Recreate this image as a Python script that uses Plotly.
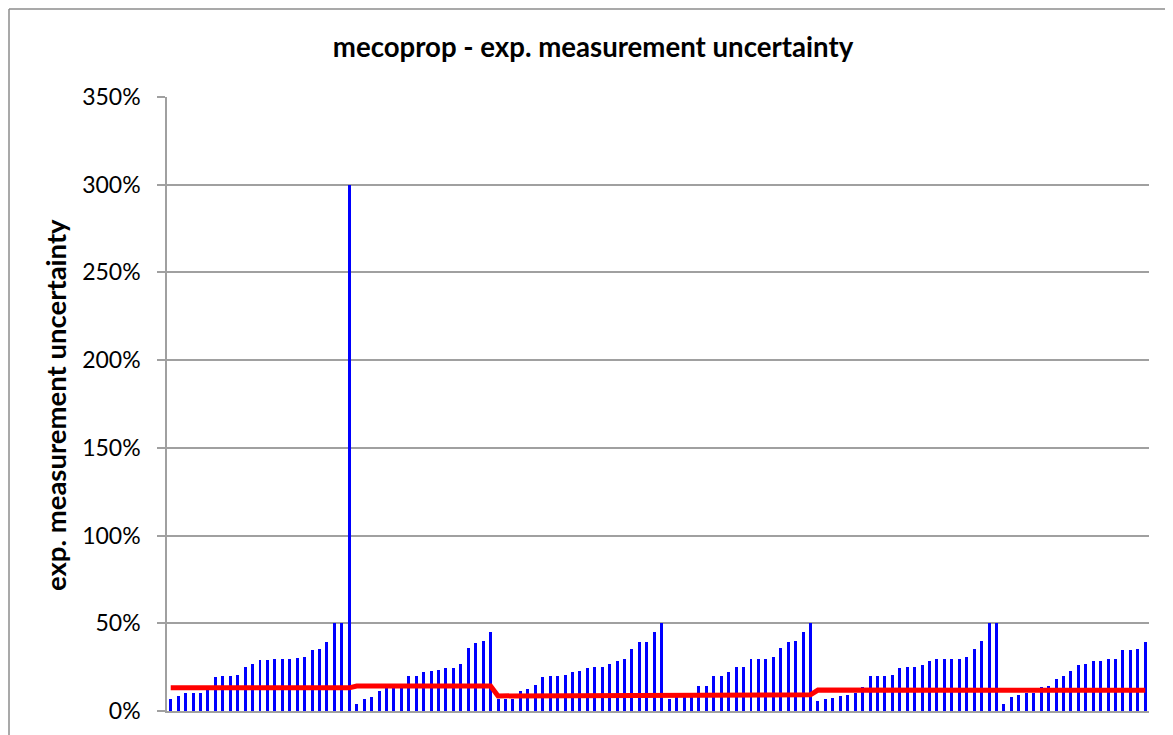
import plotly.graph_objects as go

group1 = [7, 8.6, 10.2, 10.2, 10.5, 11.7, 19.3, 19.7, 20.1, 20.5, 25.1, 26.6, 28.9, 28.9,
          29.7, 29.7, 29.7, 30.3, 30.8, 34.7, 35.1, 39.3, 50, 50, 300]
group2 = [4, 6.7, 8.2, 11.3, 13, 13, 13, 19.7, 19.7, 22, 22.8, 23.6, 24.7, 24.7, 26.6,
          35.8, 38.9, 39.8, 45]
group3 = [6.7, 6.7, 7.1, 11.3, 12.5, 14.8, 19.3, 19.7, 20.1, 20.5, 22, 23, 24.7, 25.1,
          25.1, 26.8, 28.7, 29.9, 35.1, 39.3, 39.3, 45, 50]
group4 = [6.7, 8.2, 8.2, 8.2, 14.4, 14.4, 19.7, 19.7, 22, 25.1, 25.1, 29.9, 29.9, 29.9,
          30.8, 35.8, 39.3, 40, 45, 50]
group5 = [5.7, 6.7, 7.5, 8.6, 9.4, 10.2, 13.6, 19.7, 19.7, 19.7, 20.5, 24.7, 25.1, 25.1,
          26.4, 28.7, 29.9, 29.9, 29.9, 29.9, 30.8, 35.1, 40, 50, 50]
group6 = [4, 8.2, 9.2, 10, 10.5, 13.6, 14.4, 18.2, 20.1, 23, 26.2, 26.6, 28.7, 28.7,
          29.7, 29.7, 34.9, 34.9, 35.4, 39.3]

# Expanded measurement uncertainty level (red line) per group (%)
group_levels = [13.2, 14.2, 8.6, 9.2, 11.9, 11.8]

y_tick_values = [0, 50, 100, 150, 200, 250, 300, 350]
y_tick_labels = ["0%", "50%", "100%", "150%", "200%", "250%", "300%", "350%"]

title_text = "mecoprop - exp. measurement uncertainty"
y_title_text = "exp. measurement uncertainty"

groups = [group1, group2, group3, group4, group5, group6]
values = [v for g in groups for v in g]
levels = [lvl for g, lvl in zip(groups, group_levels) for _ in g]
x = list(range(1, len(values) + 1))

fig = go.Figure()
fig.add_trace(go.Bar(x=x, y=values, width=0.4, marker=dict(color="#0000FF", line=dict(width=0)),
                     showlegend=False))
fig.add_trace(go.Scatter(x=x, y=levels, mode="lines", line=dict(color="#FF0000", width=5),
                         showlegend=False))

# page has an 8px body margin; figure coords = page coords - 8
OFF = 8
W, H = 1173 - OFF, 735 - OFF
L, T = 167 - OFF, 97 - OFF
R = W - (1149 - OFF)
B = H - (711 - OFF)
pw = W - L - R
ph = H - T - B


def px_x(page_x):
    return (page_x - OFF - L) / pw


def px_y(page_y):
    return ((711 - OFF) - (page_y - OFF)) / ph


fig.update_layout(
    width=W, height=H,
    margin=dict(l=L, r=R, t=T, b=B, pad=0),
    paper_bgcolor="white", plot_bgcolor="white",
    font=dict(family="Lato, Open Sans, sans-serif", color="black"),
    title=dict(text="<b>" + title_text + "</b>", x=(593 - OFF) / W, xref="container",
               xanchor="center", y=1 - (47 - OFF) / H, yanchor="middle",
               font=dict(size=27.6, family="Lato, sans-serif", color="black")),
    bargap=0,
    xaxis=dict(range=[0.5, len(values) + 0.5], showticklabels=False, showgrid=False,
               showline=True, linecolor="#A0A0A0", linewidth=1.5, ticks="", zeroline=False),
    yaxis=dict(range=[0, 350], tickvals=y_tick_values, ticktext=y_tick_labels,
               showgrid=True, gridcolor="#A0A0A0", gridwidth=1.5,
               showline=True, linecolor="#A0A0A0", linewidth=1.5,
               ticks="outside", ticklen=8, tickcolor="#A0A0A0", tickwidth=1.5,
               ticklabelstandoff=12,
               tickfont=dict(size=23, family="Lato, sans-serif", color="black"),
               zeroline=False),
    annotations=[dict(text="<b>" + y_title_text + "</b>", textangle=-90,
                      xref="paper", yref="paper", x=px_x(55), y=px_y(405),
                      xanchor="center", yanchor="middle", showarrow=False,
                      font=dict(size=27.5, family="Lato, sans-serif", color="black"))],
    shapes=[
        dict(type="line", xref="paper", yref="paper", x0=px_x(9), x1=px_x(1190),
             y0=px_y(9), y1=px_y(9), line=dict(color="#8C8C8C", width=1.5)),
        dict(type="line", xref="paper", yref="paper", x0=px_x(9), x1=px_x(9),
             y0=px_y(9), y1=px_y(760), line=dict(color="#8C8C8C", width=1.5)),
    ],
)

fig.write_html("out.html")
